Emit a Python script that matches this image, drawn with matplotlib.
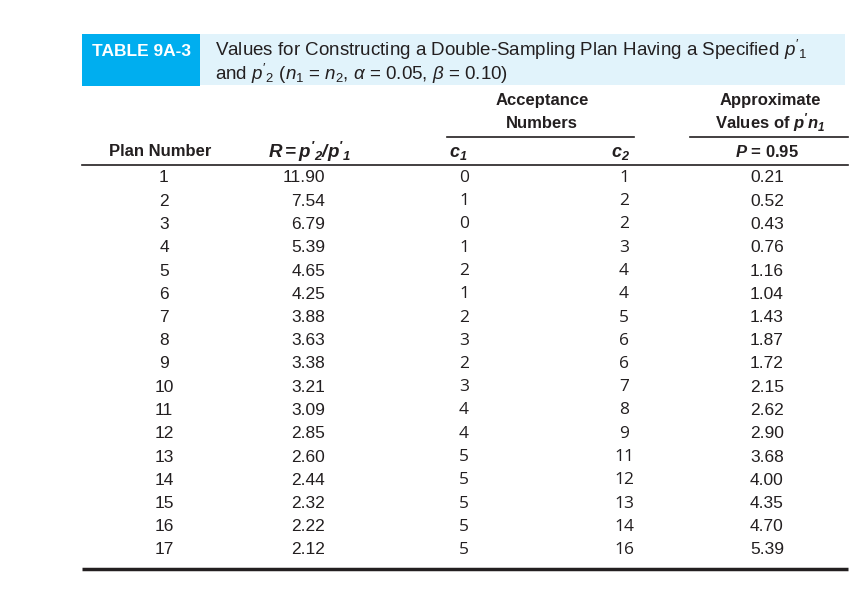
import matplotlib
matplotlib.use("Agg")
import matplotlib.pyplot as plt
from matplotlib.patches import Rectangle

plt.rcParams['font.family'] = ['Liberation Sans', 'DejaVu Sans']
plt.rcParams['mathtext.fontset'] = 'custom'
plt.rcParams['mathtext.rm'] = 'Liberation Sans'
plt.rcParams['mathtext.it'] = 'Liberation Sans:italic'
plt.rcParams['mathtext.bf'] = 'Liberation Sans:italic:bold'

# table data
plan_number = [1, 2, 3, 4, 5, 6, 7, 8, 9, 10, 11, 12, 13, 14, 15, 16, 17]
r_ratio = ["11.90", "7.54", "6.79", "5.39", "4.65", "4.25", "3.88", "3.63", "3.38",
           "3.21", "3.09", "2.85", "2.60", "2.44", "2.32", "2.22", "2.12"]
c1 = [0, 1, 0, 1, 2, 1, 2, 3, 2, 3, 4, 4, 5, 5, 5, 5, 5]
c2 = [1, 2, 2, 3, 4, 4, 5, 6, 6, 7, 8, 9, 11, 12, 13, 14, 16]
pn1 = ["0.21", "0.52", "0.43", "0.76", "1.16", "1.04", "1.43", "1.87", "1.72",
       "2.15", "2.62", "2.90", "3.68", "4.00", "4.35", "4.70", "5.39"]

title_tag = "TABLE 9A-3"
title_line1 = "Values for Constructing a Double-Sampling Plan Having a Specified $p'_1$"
title_line2 = "and $p'_2$ ($n_1$ = $n_2$, $\\alpha$ = 0.05, $\\beta$ = 0.10)"

fig = plt.figure(figsize=(8.64, 6.09), dpi=100)
ax = fig.add_axes([0, 0, 1, 1])
ax.set_xlim(0, 864)
ax.set_ylim(609, 0)
ax.axis('off')

ink = '#231f20'

# title band
ax.add_patch(Rectangle((200, 34), 645, 51, color='#e1f3fb', lw=0))
ax.add_patch(Rectangle((82, 34), 118, 52, color='#00aeef', lw=0))
ax.text(142, 51, title_tag, color='white', fontsize=12.5, fontweight='bold',
        ha='center', va='center')
ax.text(215, 50, title_line1, fontsize=13.5, color=ink, va='center')
ax.text(215, 74, title_line2, fontsize=13.5, color=ink, va='center')

# column headers
hdr = dict(fontsize=12, fontweight='bold', color=ink, va='center', ha='center')
ax.text(542, 101, "Acceptance", **hdr)
ax.text(542, 123, "Numbers", **hdr)
ax.text(770, 101, "Approximate", **hdr)
ax.text(770, 123, "Values of $\\mathbf{p'n_1}$", **hdr)
ax.plot([447, 634], [137, 137], color=ink, lw=1.2)
ax.plot([690, 848], [137, 137], color=ink, lw=1.2)

ax.text(160, 152, "Plan Number", **hdr)
ax.text(310, 152, "$\\mathbf{R = p'_2/p'_1}$", fontsize=13.5, color=ink,
        va='center', ha='center')
ax.text(458, 153, "$\\mathbf{c_1}$", fontsize=13, color=ink, va='center', ha='center')
ax.text(621, 153, "$\\mathbf{c_2}$", fontsize=13, color=ink, va='center', ha='center')
ax.text(767, 152, "$\\mathbf{P}$ = 0.95", **hdr)
ax.plot([82, 848], [165, 165], color=ink, lw=1.2)

# rows
y0, dy = 178, 23.25
body = dict(fontsize=12.5, color=ink, va='center')
num = dict(family='Open Sans', fontsize=12.5, color=ink, va='center', ha='center')
for i in range(len(plan_number)):
    y = y0 + i * dy
    ax.text(164, y, str(plan_number[i]), ha='center', **body)
    ax.text(325, y, r_ratio[i], ha='right', **body)
    ax.text(464, y, str(c1[i]), **num)
    ax.text(624, y, str(c2[i]), **num)
    ax.text(767, y, pn1[i], ha='center', **body)

ax.plot([82, 848], [569, 569], color=ink, lw=2.5, solid_capstyle='butt')

fig.savefig("out.png", dpi=100)
